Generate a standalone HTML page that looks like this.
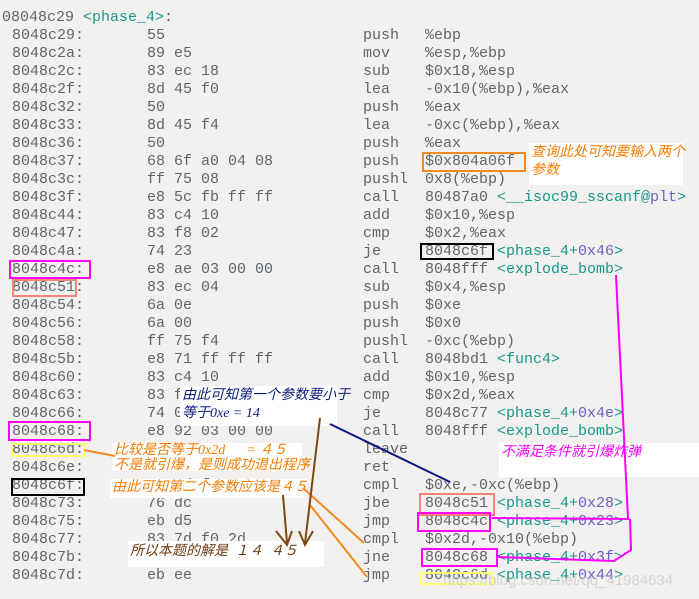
<!DOCTYPE html>
<html><head><meta charset="utf-8"><style>
html,body{margin:0;padding:0}
body{width:699px;height:599px;background:#f2f1f0;position:relative;overflow:hidden;font-family:"Liberation Mono","DejaVu Sans Mono",monospace;font-size:15px;color:#5e666c}
.r{position:absolute;height:18px;line-height:18px;white-space:pre}
.t{color:#17978a}.p{color:#6c5fc7}
.b{position:absolute;box-sizing:border-box}
.w{position:absolute;background:#fff;font-family:"Liberation Serif","Noto Sans CJK SC",serif;font-style:italic;font-size:14px;line-height:18px;white-space:pre}
</style></head><body>
<div class="r" style="left:2px;top:9px">08048c29 <span class="t">&lt;phase_4&gt;</span>:</div>
<div id="rows"></div>
<script>
var d=[["8048c29:","55","push","%ebp"],["8048c2a:","89 e5","mov","%esp,%ebp"],["8048c2c:","83 ec 18","sub","$0x18,%esp"],["8048c2f:","8d 45 f0","lea","-0x10(%ebp),%eax"],["8048c32:","50","push","%eax"],["8048c33:","8d 45 f4","lea","-0xc(%ebp),%eax"],["8048c36:","50","push","%eax"],["8048c37:","68 6f a0 04 08","push","$0x804a06f"],["8048c3c:","ff 75 08","pushl","0x8(%ebp)"],["8048c3f:","e8 5c fb ff ff","call","80487a0 <span class=t>&lt;__isoc99_sscanf@</span><span class=p>plt</span><span class=t>&gt;</span>"],["8048c44:","83 c4 10","add","$0x10,%esp"],["8048c47:","83 f8 02","cmp","$0x2,%eax"],["8048c4a:","74 23","je","8048c6f <span class=t>&lt;phase_4+</span><span class=p>0x46</span><span class=t>&gt;</span>"],["8048c4c:","e8 ae 03 00 00","call","8048fff <span class=t>&lt;explode_bomb&gt;</span>"],["8048c51:","83 ec 04","sub","$0x4,%esp"],["8048c54:","6a 0e","push","$0xe"],["8048c56:","6a 00","push","$0x0"],["8048c58:","ff 75 f4","pushl","-0xc(%ebp)"],["8048c5b:","e8 71 ff ff ff","call","8048bd1 <span class=t>&lt;func4&gt;</span>"],["8048c60:","83 c4 10","add","$0x10,%esp"],["8048c63:","83 f8 2d","cmp","$0x2d,%eax"],["8048c66:","74 0f","je","8048c77 <span class=t>&lt;phase_4+</span><span class=p>0x4e</span><span class=t>&gt;</span>"],["8048c68:","e8 92 03 00 00","call","8048fff <span class=t>&lt;explode_bomb&gt;</span>"],["8048c6d:","c9","leave",""],["8048c6e:","c3","ret",""],["8048c6f:","83 7d f4 0e","cmpl","$0xe,-0xc(%ebp)"],["8048c73:","76 dc","jbe","8048c51 <span class=t>&lt;phase_4+</span><span class=p>0x28</span><span class=t>&gt;</span>"],["8048c75:","eb d5","jmp","8048c4c <span class=t>&lt;phase_4+</span><span class=p>0x23</span><span class=t>&gt;</span>"],["8048c77:","83 7d f0 2d","cmpl","$0x2d,-0x10(%ebp)"],["8048c7b:","75 eb","jne","8048c68 <span class=t>&lt;phase_4+</span><span class=p>0x3f</span><span class=t>&gt;</span>"],["8048c7d:","eb ee","jmp","8048c6d <span class=t>&lt;phase_4+</span><span class=p>0x44</span><span class=t>&gt;</span>"]];
var h="";for(var i=0;i<d.length;i++){var y=27+18*i;h+='<div class=r style="left:12px;top:'+y+'px">'+d[i][0]+'</div><div class=r style="left:147px;top:'+y+'px">'+d[i][1]+'</div><div class=r style="left:363px;top:'+y+'px">'+d[i][2]+'</div><div class=r style="left:425px;top:'+y+'px">'+d[i][3]+'</div>';}
document.getElementById("rows").outerHTML=h;
</script>
<div class="b" style="left:422px;top:152px;width:104px;height:20px;border:2px solid #f58a1f"></div>
<div class="w" style="left:529px;top:143px;width:150px;height:40px;color:#f57c00;padding:1px 2px">查询此处可知要输入两个
参数</div>
<div class="b" style="left:420px;top:243px;width:74px;height:17px;border:2px solid #000"></div>
<div class="b" style="left:9px;top:260px;width:82px;height:19px;border:2px solid #f0f"></div>
<div class="b" style="left:12px;top:279px;width:65px;height:18px;border:2px solid #f4847a"></div>
<div class="w" style="left:180px;top:386px;width:153px;height:38px;color:#0b1a7a;padding:1px 2px">由此可知第一个参数要小于
等于0xe = 14</div>
<div class="b" style="left:8px;top:421px;width:83px;height:20px;border:2px solid #f0f"></div>
<div class="b" style="left:11px;top:443px;width:75px;height:14px;border:2px solid #ffff70"></div>
<div class="b" style="left:11px;top:478px;width:74px;height:18px;border:2px solid #000"></div>
<div class="w" style="left:112px;top:443px;width:186px;height:28px;color:#f57c00;padding:0 2px;line-height:15px">比较是否等于0x2d      = ４５
不是就引爆，是则成功退出程序</div>
<div class="w" style="left:110px;top:479px;width:193px;height:19px;color:#f57c00;padding:0 2px">由此可知第二个参数应该是４５</div>
<div class="w" style="left:128px;top:541px;width:192px;height:22px;color:#6b3a10;padding:2px 2px">所以本题的解是  １４  ４５</div>
<div class="w" style="left:499px;top:443px;width:200px;height:32px;color:#f0f;padding:1px 2px">不满足条件就引爆炸弹</div>
<div class="b" style="left:419px;top:493px;width:76px;height:23px;border:2px solid #f4847a"></div>
<div class="b" style="left:417px;top:512px;width:74px;height:20px;border:2px solid #f0f"></div>
<div class="b" style="left:421px;top:548px;width:77px;height:19px;border:2px solid #f0f"></div>
<div class="b" style="left:420px;top:572px;width:73px;height:13px;border:2px solid #ffff70"></div>
<div class="r" style="left:443px;top:572px;color:rgba(200,200,200,.7);font-family:'Liberation Sans',sans-serif;font-size:15px">https://blog.csdn.net/qq_41984634</div>
<svg width="699" height="599" style="position:absolute;left:0;top:0" fill="none">
<polyline points="616,275 628,519 492,518" stroke="#f0f" stroke-width="2"/>
<polyline points="630,519 631,550 614,561 497,557" stroke="#f0f" stroke-width="2"/>
<line x1="330" y1="424" x2="450" y2="482" stroke="#0b1a7a" stroke-width="2"/>
<line x1="84" y1="450" x2="115" y2="456" stroke="#f58a1f" stroke-width="2"/>
<line x1="303" y1="488" x2="364" y2="543" stroke="#f58a1f" stroke-width="2"/>
<line x1="310" y1="505" x2="367" y2="577" stroke="#f58a1f" stroke-width="2"/>
<line x1="283" y1="495" x2="287" y2="543" stroke="#7a4a10" stroke-width="2"/>
<polyline points="276,531 287,545 292,531" stroke="#7a4a10" stroke-width="2"/>
<line x1="320" y1="418" x2="305" y2="543" stroke="#7a4a10" stroke-width="2"/>
<polyline points="299,531 305,545 313,531" stroke="#7a4a10" stroke-width="2"/>
</svg>
</body></html>
